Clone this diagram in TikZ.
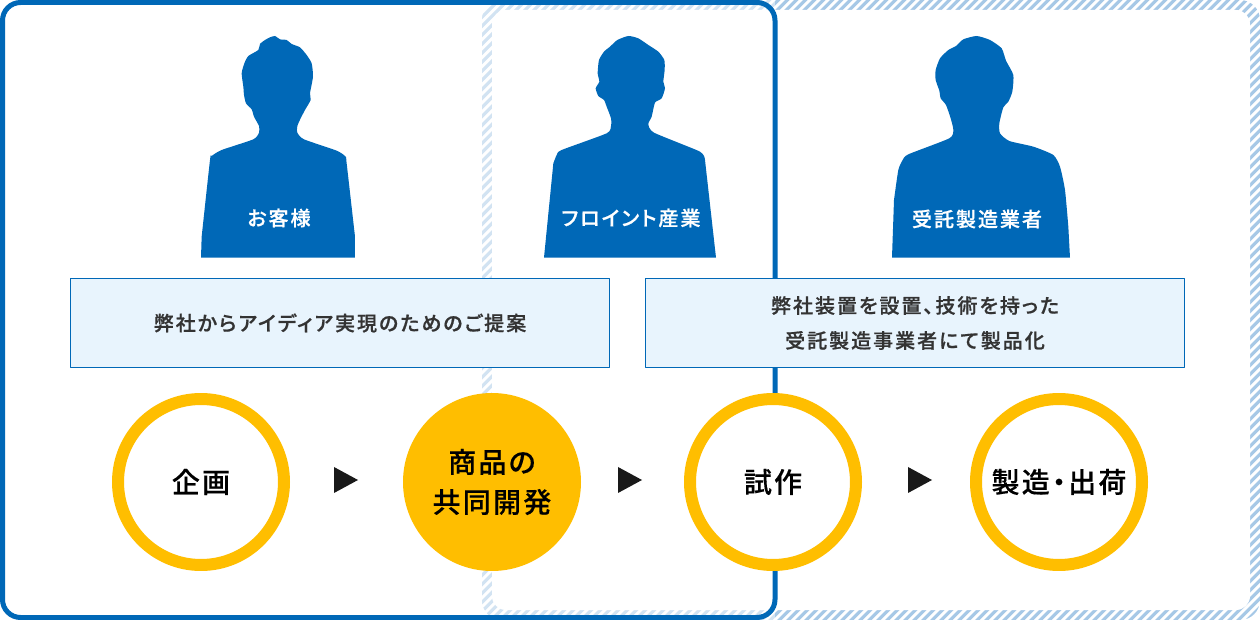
\documentclass[tikz,border=0pt]{standalone}
\usepackage{fontspec}
\setmainfont{Noto Sans CJK JP Medium}
\newfontfamily\jpmedium[LetterSpace=10,RawFeature=+palt,FakeBold=0.8]{Noto Sans CJK JP Medium}
\newfontfamily\jpcircle[LetterSpace=8,RawFeature=+palt,FakeBold=0.3]{Noto Sans CJK JP Medium}
\definecolor{frameblue}{HTML}{0068B7}
\definecolor{stripeblue}{HTML}{A6C8E6}
\definecolor{boxblue}{HTML}{E8F4FD}
\definecolor{ringgold}{HTML}{FFBE00}
\definecolor{inkgray}{HTML}{333333}
\tikzset{
  persontext/.style={text=white, font=\jpmedium\fontsize{10}{12}\selectfont},
  notebox/.style={draw=frameblue, line width=0.5pt, fill=boxblue, minimum width=269.5pt, minimum height=44.5pt,
    inner sep=0pt, align=center, text=inkgray, font=\jpmedium\fontsize{10}{17.5}\selectfont},
  ringnode/.style={circle, draw=ringgold, line width=6pt, fill=white, minimum size=83pt, inner sep=0pt,
    align=center, text=black, font=\jpcircle\fontsize{14}{20}\selectfont},
  ringfull/.style={ringnode, fill=ringgold, text=black},
  silhouette/.style={fill=frameblue}
}
\begin{document}
\begin{tikzpicture}[x=0.5pt, y=-0.5pt, line join=round]
  \useasboundingbox (0,0) rectangle (1260,620);

  % striped band
  \begin{scope}
    \clip[rounded corners=10pt] (482,0) rectangle (1260,620);
    \foreach \i in {0,...,160} {
      \fill[stripeblue] ({470+9*\i},0) -- ({474.5+9*\i},0) -- ({474.5+9*\i-620},620) -- ({470+9*\i-620},620) -- cycle;
    }
    \fill[white, rounded corners=7pt] (492,10) rectangle (1250,610);
    \fill[white, opacity=0.5] (482,0) rectangle (775,620);
  \end{scope}

  % frame
  \draw[frameblue, line width=2.5pt, rounded corners=9pt] (2.5,2.5) rectangle (775,617.5);

  % customer
  \begin{scope}[shift={(180,20)}, scale=1/3]
    \fill[silhouette] (63,713) -- plot[smooth, tension=0.35] coordinates {(65,650) (90,420) (95,408) (125,390) (220,358) (237,338)
      (237,318) (222,290) (215,268) (198,250) (192,225) (190,200) (185,160) (193,130) (205,108) (235,90) (240,72)
      (255,60) (270,52) (285,48) (300,58) (320,60) (335,72) (360,82) (380,105) (395,130) (399,170) (390,220)
      (392,240) (375,270) (362,295) (352,318) (352,338) (372,358) (470,392) (497,410) (500,430) (525,650)}
      -- (525,713) -- cycle;
  \end{scope}
  % maker
  \begin{scope}[shift={(530,20)}, scale=1/3]
    \fill[silhouette] (42,713) -- plot[smooth, tension=0.35] coordinates {(70,430) (80,405) (95,390) (230,340) (243,318) (243,295)
      (230,260) (222,240) (205,228) (197,205) (208,185) (203,160) (207,120) (222,95)
      (240,80) (262,60) (295,48) (325,55) (355,75) (385,95) (403,120) (404,150)
      (400,185) (405,205) (395,235) (375,248) (365,290) (355,312) (372,338) (510,395)
      (525,420)} -- (558,713) -- cycle;
  \end{scope}
  % contractor
  \begin{scope}[shift={(880,20)}, scale=1/3]
    \fill[silhouette] (36,713) -- plot[smooth, tension=0.35] coordinates {(42,540) (55,450) (68,420) (85,403) (208,355) (220,330)
      (212,295) (198,255) (182,235) (178,212) (167,180) (167,150) (180,115) (205,90)
      (228,78) (250,58) (290,48) (330,60) (365,85) (378,122) (400,165) (397,215)
      (385,245) (370,262) (358,310) (360,340) (388,363) (460,380) (520,405) (540,440)
      (555,510) (565,620)} -- (570,713) -- cycle;
  \end{scope}

  \node[persontext] (customer) at (279,218) {お客様};
  \node[persontext] (maker) at (631,218) {フロイント産業};
  \node[persontext] (contractor) at (977,219) {受託製造業者};

  \node[notebox] (proposal) at (340,323) {弊社からアイディア実現のためのご提案};
  \node[notebox] (production) at (915,323) {弊社装置を設置、技術を持った\\受託製造事業者にて製品化};

  \node[ringnode] (planning) at (201,482) {企画};
  \node[ringfull] (development) at (492,482) {商品の\\共同開発};
  \node[ringnode] (prototype) at (773,482) {試作};
  \node[ringnode] (shipping) at (1059,482) {製造・出荷};

  % arrowheads between the steps
  \fill[black!90] (334,467) -- (358,480) -- (334,493) -- cycle;
  \fill[black!90] (618,467) -- (642,480) -- (618,493) -- cycle;
  \fill[black!90] (908,467) -- (932,480) -- (908,493) -- cycle;
\end{tikzpicture}
\end{document}
